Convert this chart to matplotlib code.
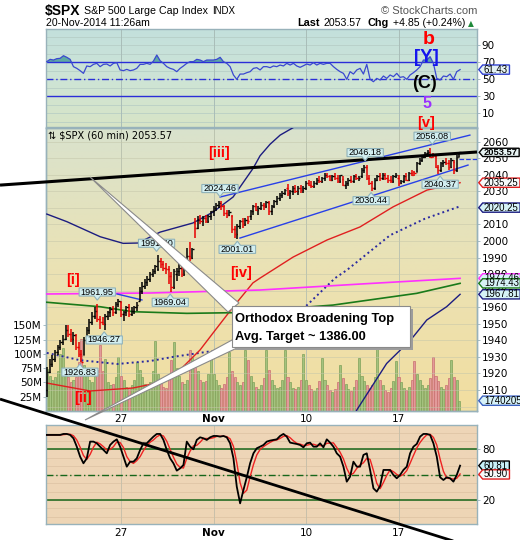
import numpy as np
import matplotlib
matplotlib.use("Agg")
import matplotlib.pyplot as plt
from matplotlib.path import Path
from matplotlib.patches import Polygon, Rectangle
from matplotlib.colors import LinearSegmentedColormap
import matplotlib.transforms as mtrans

# ---------------- data (hourly bars, 21-Oct .. 20-Nov-2014) ----------------
opens = [1910,1921,1926,1929,1933,1936,1939,
         1941,1946,1944,1941,1943,1936,1932,
         1931,1940,1946,1951,1955,1958,1953,
         1951,1950,1955,1957,1959,1957,1962,
         1963,1956,1957,1960,1956,1958,1960,
         1964,1970,1973,1975,1977,1980,1982,
         1983,1988,1986,1984,1983,1979,1972,
         1980,1982,1984,1980,1989,1991,1990,
         2011,2008,2013,2012,2014,2012,2015,
         2018,2020,2022,2023,2021,2017,2016,
         2015,2007,2004,2009,2012,2010,2013,
         2015,2018,2021,2019,2020,2022,2021,
         2023,2018,2021,2024,2026,2028,2029,
         2032,2029,2030,2032,2030,2032,2031,
         2032,2035,2034,2033,2035,2037,2036,
         2038,2040,2039,2037,2039,2038,2036,
         2037.7,2034,2035,2037,2036,2039,2038,
         2039,2043,2045,2038,2035,2032,2037,
         2039.7,2038,2040,2038,2037,2036,2039,
         2038.3,2035,2036,2039,2037,2041,2042,
         2041.5,2047,2049,2051,2053,2054,2052.5,
         2051.2,2045,2043,2047,2048,2047,2045,
         2048,2043,2051]
highs = [1924,1929,1931,1934,1937,1940,1943,
         1949,1949,1947,1945,1944,1939,1934,
         1942,1948,1953,1957,1960,1961.95,1955,
         1954,1956,1958,1960,1961,1963,1965.27,
         1964,1958,1961,1962,1960,1961,1963,
         1972,1975,1977,1979,1981,1983,1985.5,
         1991.4,1990,1988,1987,1985,1981,1983,
         1984,1986,1986,1990,1996,1999.4,1996,
         2014,2015,2016,2015,2016,2016,2018.3,
         2021,2023,2024,2024.46,2022,2019,2019,
         2016,2009,2010,2013,2014,2014,2015,
         2019,2022,2023,2021,2023.8,2023,2024,
         2024,2022,2025,2027,2029,2030,2031.6,
         2034.3,2031,2033,2034,2033,2034,2033,
         2036,2037,2036,2036,2038,2039,2038.7,
         2041,2041.3,2040,2040,2041,2040,2040,
         2039,2036,2038,2039,2040,2040.3,2039,
         2044,2046.18,2046,2040,2036,2038,2040,
         2041,2041.1,2041,2040,2039,2040,2041,
         2040,2037,2040,2041,2042,2043.1,2042.5,
         2048,2050,2052,2054,2055,2056.08,2053,
         2052.1,2046,2048,2049,2050,2049,2050,
         2049,2052,2054]
lows = [1906,1920,1924,1927,1931,1934,1937,
        1940,1942,1939,1937,1934,1930,1926.83,
        1931,1938,1944,1949,1953,1951,1947,
        1949,1946.27,1952,1954,1955,1956,1960,
        1954,1951.4,1955,1954,1955,1956,1958,
        1964,1968,1971,1973,1975,1978,1980,
        1982,1984,1982,1980,1974,1969.04,1971,
        1976,1979,1978,1979,1987,1988,1989,
        2002,2007,2010,2009,2011,2011,2013,
        2015,2018,2020,2019,2015,2013.7,2015,
        2005,2002,2001.01,2007,2008,2009,2010,
        2013,2016,2018,2016,2019,2019,2020,
        2016,2016,2020,2022,2024,2026,2028,
        2027,2025.1,2028,2029,2028,2029,2029,
        2031,2033,2032,2032,2034,2035,2035,
        2036,2038,2036,2036,2037,2035.3,2035,
        2033,2031.3,2033,2035,2035,2037,2036,
        2038,2041,2037,2034,2030.44,2031,2036,
        2036,2037,2037,2035,2035,2035,2038,
        2033,2034.5,2035,2036,2036,2039,2039,
        2041.5,2046,2048,2050,2052,2050,2050,
        2044,2040.37,2042,2045,2046,2043,2044,
        2040.5,2042,2050.5]
closes = [1921,1926,1929,1933,1936,1939,1941,
          1946,1944,1941,1943,1936,1932,1927,
          1940,1946,1951,1955,1958,1953,1951,
          1950,1955,1957,1959,1957,1962,1964,
          1956,1957,1960,1956,1958,1960,1961.6,
          1970,1973,1975,1977,1980,1982,1985,
          1988,1986,1984,1983,1979,1972,1982,
          1982,1984,1980,1989,1991,1990,1995,
          2008,2013,2012,2014,2012,2015,2018,
          2020,2022,2023,2021,2017,2016,2017.8,
          2007,2004,2009,2012,2010,2013,2012,
          2018,2021,2019,2020,2022,2021,2023.6,
          2018,2021,2024,2026,2028,2029,2031,
          2029,2030,2032,2030,2032,2031,2032,
          2035,2034,2033,2035,2037,2036,2038,
          2040,2039,2037,2039,2038,2036,2039.7,
          2034,2035,2037,2036,2039,2038,2038.25,
          2043,2045,2038,2035,2032,2037,2039.3,
          2038,2040,2038,2037,2036,2039,2039.8,
          2035,2036,2039,2037,2041,2040,2041.3,
          2047,2049,2051,2053,2054,2051,2051.8,
          2045,2043,2047,2048,2047,2045,2048.7,
          2043,2051,2053.57]
volumes_m = [74,62,55,60,70,100,110,
             72,60,50,55,60,85,126,
             80,65,55,50,62,72,115,
             70,91,50,45,48,60,95,
             62,55,42,40,45,55,85,
             72,60,48,45,50,70,122,
             65,50,42,40,60,90,120,
             75,62,50,48,55,106,95,
             90,70,55,50,52,65,100,
             65,55,45,40,48,60,103,
             70,60,50,45,50,106,90,
             62,50,42,38,45,58,106,
             71,55,45,40,42,55,107,
             60,50,40,38,42,55,100,
             55,45,38,35,40,52,93,
             55,45,36,33,38,50,81,
             58,48,38,35,42,55,93,
             62,52,45,40,45,60,108,
             55,45,36,34,40,52,87,
             60,50,40,36,42,55,88,
             65,55,45,40,45,58,95,
             62,52,42,38,45,58,89,
             60,55,18]

rsi_vals = [70.8,73.5,72.7,74.3,74.7,77.8,75.9,73.5,64.9,62.9,
            60.2,57.0,65.7,64.9,67.6,68.8,64.9,67.6,68.0,65.7,
            68.8,69.6,61.0,60.2,61.7,60.2,61.0,62.9,67.6,67.6,
            68.8,67.6,71.5,78.6,71.9,68.8,64.9,62.9,61.7,59.0,
            62.9,65.7,68.8,70.8,70.8,73.5,72.7,70.8,72.7,72.7,
            72.7,73.5,75.9,70.8,68.8,64.9,55.1,50.0,56.2,56.2,
            57.8,59.0,62.9,63.7,61.0,64.9,64.9,63.7,65.7,64.9,
            66.8,65.7,68.8,66.8,68.8,65.7,64.1,66.0,68.0,66.8,
            69.6,66.8,68.8,67.6,68.8,68.8,64.9,61.7,59.0,57.0,
            50.0,59.0,56.2,61.0,62.9,56.2,67.6,50.0,47.2,51.1,
            49.2,53.9,51.1,55.1,53.1,57.0,52.3,53.1,50.0,55.1,
            57.8,61.0,64.9,72.7,72.7,76.6,68.8,51.1,49.2,53.9,
            53.1,56.2,50.0,59.0,61.43]
stoch_k = [97.2,97.2,97.2,97.2,97.2,98.4,98.4,97.2,93.2,83.3,
           71.5,63.6,69.5,89.3,89.3,87.3,83.3,79.4,75.4,85.3,
           89.3,92.0,83.3,71.5,59.6,65.5,65.5,69.5,79.4,87.3,
           87.3,91.3,95.2,98.4,98.4,91.3,79.4,69.5,63.6,54.9,
           57.6,61.6,89.3,83.3,80.2,91.3,94.4,93.2,91.3,94.4,
           96.0,96.0,95.2,96.0,94.4,87.3,69.5,35.9,16.1,31.9,
           47.0,63.6,75.4,81.4,83.3,85.3,89.3,90.5,91.3,92.0,
           96.0,98.4,95.2,88.1,87.3,86.5,85.3,82.5,87.3,88.1,
           83.3,83.3,87.3,82.5,92.0,88.1,83.3,75.4,71.5,59.6,
           41.8,47.8,65.5,59.6,59.6,73.5,75.4,55.7,33.9,30.0,
           36.7,55.7,55.7,55.7,49.7,45.8,49.7,55.7,59.6,75.4,
           83.3,86.5,95.2,98.4,98.4,97.2,87.3,71.5,47.0,43.8,
           47.0,45.8,41.8,49.7,60.81]
stoch_d = [97.2,97.2,97.2,97.2,97.2,97.6,98.0,98.0,96.3,91.2,
           82.7,72.8,68.2,74.1,82.7,88.6,86.6,83.3,79.4,80.0,
           83.3,88.9,88.2,82.3,71.5,65.5,63.5,66.8,71.5,78.7,
           84.7,88.6,91.3,95.0,97.3,96.0,89.7,80.1,70.8,62.7,
           58.7,58.0,69.5,78.1,84.3,84.9,88.6,93.0,93.0,93.0,
           93.9,95.5,95.7,95.7,95.2,92.6,83.7,64.2,40.5,28.0,
           31.7,47.5,62.0,73.5,80.0,83.3,86.0,88.4,90.4,91.3,
           93.1,95.5,96.5,93.9,90.2,87.3,86.4,84.8,85.0,86.0,
           86.2,84.9,84.6,84.4,87.3,87.5,87.8,82.3,76.7,68.8,
           57.6,49.7,51.7,57.6,61.6,64.2,69.5,68.2,55.0,39.9,
           33.5,40.8,49.4,55.7,53.7,50.4,48.4,50.4,55.0,63.6,
           72.8,81.7,88.3,93.4,97.3,98.0,94.3,85.3,68.6,54.1,
           45.9,45.5,44.9,45.8,50.90]

# overlays: (bar position, price)
bbu_x = [-0.1, 7.5, 20.1, 28.8, 34.4, 42.8, 55.2, 62.8, 70.4, 78.0, 80.6, 84.4, 88.2, 93.1, 107, 133.6, 156.3]
bbu_y = [2016.3, 2011.7, 2002.6, 1998.6, 1998.8, 2005.4, 2010.9, 2017.5, 2026.6, 2044.0, 2051.5, 2058.5, 2064.0, 2068.5, 2082, 2088, 2085]
bbm_x = [-0.1, 12.5, 26.5, 39, 47.7, 62.8, 73, 84.4, 91.9, 98.4, 109, 113.5, 129.8, 143, 156.3]
bbm_y = [1932.4, 1928, 1925.7, 1927.5, 1930, 1933.6, 1937.8, 1945, 1953.4, 1961.3, 1977.6, 1982.5, 2003.5, 2013.5, 2021.0]
bbl_x = [-0.1, 28.8, 62.8, 80.6, 98.4, 113.5, 117.2, 128.5, 133.6, 138.6, 143.7, 151.2, 156.3]
bbl_y = [1848, 1853, 1850, 1850, 1858, 1885, 1897.9, 1926, 1934, 1942.2, 1952.3, 1960.3, 1967.8]
sma_red_x = [-0.1, 16.3, 32.5, 41.6, 50.3, 57.9, 62.8, 70.4, 77.9, 80.6, 93.1, 105.9, 118.4, 130.9, 143.8, 156.3]
sma_red_y = [1914.2, 1909.4, 1911.2, 1914.2, 1922.1, 1934.2, 1944.4, 1960.1, 1974.7, 1977.6, 1990.3, 2000.6, 2008.5, 2020.6, 2030.8, 2035.25]
sma_mag_x = [-0.1, 39, 80.6, 118.4, 156.3]
sma_mag_y = [1968.0, 1968.6, 1970.4, 1974.0, 1977.46]
sma_grn_x = [-0.1, 20.1, 32.5, 52.9, 70.4, 88.2, 108.2, 139.9, 156.3]
sma_grn_y = [1963.0, 1960.3, 1957.3, 1956.3, 1956.7, 1958.9, 1961.3, 1968.4, 1974.43]
chan_up = ([65.5, 160.0], [2026.6, 2064.0])
chan_lo = ([73.0, 159.3], [2001.8, 2045.9])
chan_small = ([26.5, 35.9], [1968.0, 1964.4])
broad_up = ([-17.8, 162.7], [2033.8, 2053.8])
broad_lo = ([-17.8, 166.0], [1904.5, 1812.6])
ref_line = 2049.6

price_labels = [  # (bar, price, text, side, dx)
    (42, 1991.40, "1991.40", "hi", -1.5), (66, 2024.46, "2024.46", "hi", -1.5),
    (72, 2001.01, "2001.01", "lo", 0), (19, 1961.95, "1961.95", "hi", 0),
    (47, 1969.04, "1969.04", "lo", -1), (22, 1946.27, "1946.27", "lo", -1),
    (13, 1926.83, "1926.83", "lo", -1.5), (120, 2046.18, "2046.18", "hi", 1),
    (123, 2030.44, "2030.44", "lo", -1), (145, 2056.08, "2056.08", "hi", 2),
    (148, 2040.37, "2040.37", "lo", 2)]

date_pos = [28, 63, 98, 133]
date_lbl = ["27", "Nov", "10", "17"]

# ---------------- figure ----------------
W, H = 520, 540
fig = plt.figure(figsize=(W / 100, H / 100), dpi=100)
fig.patch.set_facecolor("white")

def fx(px):
    return px / W

def fy(py):
    return 1 - py / H

L, R = 46, 477
def rect(top, bottom):
    return [L / W, 1 - bottom / H, (R - L) / W, (bottom - top) / H]

ax_rsi = fig.add_axes(rect(29, 127))
ax_vol = fig.add_axes(rect(128, 411), sharex=ax_rsi)
ax_p = fig.add_axes(rect(128, 411), sharex=ax_rsi)
ax_sto = fig.add_axes(rect(425, 524), sharex=ax_rsi)
ax_rsi.set_zorder(1)
ax_sto.set_zorder(1)
ax_vol.set_zorder(2)
ax_p.set_zorder(3)
ax_p.patch.set_visible(False)

def grad(ax, cols):
    cmap = LinearSegmentedColormap.from_list("g", cols)
    ax.imshow(np.linspace(0, 1, 256).reshape(-1, 1), aspect="auto", cmap=cmap,
              extent=[0, 1, 0, 1], transform=ax.transAxes, origin="lower",
              zorder=-10, interpolation="bilinear")

grad(ax_rsi, ["#d8e5c6", "#cde4d6", "#c3e0dc"])
grad(ax_vol, ["#f2dea0", "#ebe2b4", "#d9e2cd"])
grad(ax_sto, ["#eed5b5", "#eed6b8"])

spc = "#98b2ba"
for ax in (ax_rsi, ax_vol, ax_p, ax_sto):
    for s in ax.spines.values():
        s.set_color(spc)
        s.set_linewidth(1.0)
    ax.tick_params(axis="x", which="both", bottom=False, labelbottom=False, top=False)

xmin, xmax = -0.4, 162.7
idx = np.arange(len(closes))
o = np.array(opens); h = np.array(highs); lo = np.array(lows); c = np.array(closes)
up = c >= o
red = "#e60000"
bar_cols = np.where(up, "black", red)

# ---- volume ----
vcols = np.where(up, "#a4c27e", "#e29a9a")
vedge = np.where(up, "#7ea25a", "#c97070")
ax_vol.bar(idx, volumes_m, width=0.78, color=vcols, edgecolor=vedge, linewidth=0.5, zorder=2)
ax_vol.set_ylim(0, 495)
ax_vol.set_yticks([25, 50, 75, 100, 125, 150])
ax_vol.set_yticklabels(["25M", "50M", "75M", "100M", "125M", "150M"])
ax_vol.tick_params(axis="y", labelsize=7.5, length=2, width=0.6, color=spc, pad=1)
for d in date_pos:
    ax_vol.axvline(d, color="#bcc4b0", lw=0.7, zorder=0)

# ---- price ----
ax_p.set_ylim(1897.3, 2068.3)
ax_p.set_yticks(np.arange(1910, 2061, 10))
ax_p.yaxis.tick_right()
ax_p.tick_params(axis="y", labelsize=7.5, length=2, width=0.6, color=spc, pad=1.5)
ax_p.tick_params(axis="y", which="both", left=False, labelleft=False)
for yv in np.arange(1900, 2070, 10):
    ax_p.axhline(yv, color="#c4c6aa", lw=0.6, alpha=0.6, zorder=0)

ax_p.plot(bbu_x, bbu_y, color="#1c1c80", lw=1.0, zorder=3)
ax_p.plot(bbl_x, bbl_y, color="#1c1c80", lw=1.0, zorder=3)
ax_p.plot(bbm_x, bbm_y, color="#2a2aa0", lw=1.4, ls=(0, (1, 1.6)), zorder=3)
ax_p.plot(sma_red_x, sma_red_y, color="#e02020", lw=1.0, zorder=3)
ax_p.plot(sma_mag_x, sma_mag_y, color="#ff30ff", lw=1.2, zorder=3)
ax_p.plot(sma_grn_x, sma_grn_y, color="#1a7a1a", lw=1.2, zorder=3)
for cx_, cy_ in (chan_up, chan_lo, chan_small):
    ax_p.plot(cx_, cy_, color="#2840e8", lw=1.0, zorder=3)
ax_p.hlines(ref_line, idx[-1], xmax, colors="#2840e8", linestyles="--", lw=0.9, zorder=3)

ax_p.vlines(idx, lo, h, colors=bar_cols, lw=1.1, zorder=5)
ax_p.hlines(o, idx - 0.5, idx, colors=bar_cols, lw=1.0, zorder=5)
ax_p.hlines(c, idx, idx + 0.5, colors=bar_cols, lw=1.0, zorder=5)

ax_p.plot(broad_up[0], broad_up[1], color="black", lw=2.2, zorder=8, clip_on=False,
          solid_capstyle="butt")
ax_p.plot(broad_lo[0], broad_lo[1], color="black", lw=2.0, zorder=8, clip_on=False,
          solid_capstyle="butt")

# price label callouts
def callout(side):
    def f(x0, y0, width, height, mutation_size):
        p = 0.18 * mutation_size
        x0 -= p
        w = width + 2 * p
        y0 += 0.05 * mutation_size
        hh = height - 0.1 * mutation_size
        cx = x0 + w / 2
        t = 0.45 * mutation_size
        hw = 0.35 * mutation_size
        if side == "hi":
            verts = [(x0, y0), (cx - hw, y0), (cx, y0 - t), (cx + hw, y0), (x0 + w, y0),
                     (x0 + w, y0 + hh), (x0, y0 + hh), (x0, y0)]
        else:
            verts = [(x0, y0), (x0 + w, y0), (x0 + w, y0 + hh), (cx + hw, y0 + hh),
                     (cx, y0 + hh + t), (cx - hw, y0 + hh), (x0, y0 + hh), (x0, y0)]
        return Path(verts, closed=True)
    return f

for b, pv, txt, side, dx in price_labels:
    dy = 12 if side == "hi" else -10
    ax_p.annotate(txt, xy=(b, pv), xytext=(dx, dy), textcoords="offset pixels",
                  ha="center", va="center", fontsize=6.6, family="Liberation Sans",
                  bbox=dict(boxstyle=callout(side), fc="#d2eef0", ec="#8fb2ba", lw=0.8),
                  zorder=12, annotation_clip=False)

# ---- RSI ----
rsi = np.array(rsi_vals)
rsi_x = np.linspace(-0.1, 156.3, len(rsi))
ax_rsi.set_ylim(-6.1, 109.2)
for yv in range(0, 101, 10):
    ax_rsi.axhline(yv, color="#b4cbc4", lw=0.5, zorder=0)
for d in date_pos:
    ax_rsi.axvline(d, color="#a9bdb8", lw=0.7, zorder=0)
ax_rsi.fill_between(rsi_x, rsi, 70, where=rsi >= 70, interpolate=True, color="#5ea9a3",
                    lw=0, zorder=1)
ax_rsi.axhline(70, color="#2a2ed8", lw=1.0, zorder=2)
ax_rsi.axhline(30, color="#2a2ed8", lw=1.0, zorder=2)
ax_rsi.axhline(50, color="#2a2ed8", lw=1.0, ls=(0, (5, 2, 1, 2)), zorder=2)
ax_rsi.plot(rsi_x, rsi, color="#3a48d0", lw=0.9, zorder=3)
ax_rsi.yaxis.tick_right()
ax_rsi.set_yticks([10, 30, 50, 70, 90])
ax_rsi.tick_params(axis="y", labelsize=7.5, length=2, width=0.6, color=spc, pad=1.5)

# ---- stochastic ----
sk = np.array(stoch_k)
sd = np.array(stoch_d)
st_x = np.linspace(-0.1, 156.3, len(sk))
ax_sto.set_ylim(-8.4, 109.0)
for yv in range(0, 101, 10):
    ax_sto.axhline(yv, color="#dcc2a2", lw=0.5, zorder=0)
for d in date_pos:
    ax_sto.axvline(d, color="#c8c0aa", lw=0.7, zorder=0)
ax_sto.axhline(80, color="#17661a", lw=1.1, zorder=2)
ax_sto.axhline(20, color="#17661a", lw=1.1, zorder=2)
ax_sto.axhline(50, color="#17661a", lw=1.0, ls=(0, (5, 2, 1, 2)), zorder=2)
ax_sto.plot(st_x, sd, color="#ee2222", lw=1.0, zorder=3)
ax_sto.plot(st_x, sk, color="black", lw=1.3, zorder=4)
ax_sto.yaxis.tick_right()
ax_sto.set_yticks([20, 50, 80])
ax_sto.tick_params(axis="y", labelsize=7.5, length=2, width=0.6, color=spc, pad=1.5)

for ax in (ax_rsi, ax_vol, ax_p, ax_sto):
    ax.set_xlim(xmin, xmax)

# date labels
tr_d = mtrans.blended_transform_factory(ax_vol.transData, fig.transFigure)
for ypx in (418.5, 532.5):
    for d, t in zip(date_pos, date_lbl):
        fig.text(d, fy(ypx), t, transform=tr_d, ha="center", va="center", fontsize=7.5,
                 fontweight="bold" if t == "Nov" else "normal", zorder=20)

# ---- value tags on the right ----
def tag_style(x0, y0, width, height, mutation_size):
    p = 0.14 * mutation_size
    x0 -= p
    w = width + 2 * p
    y0 += 0.04 * mutation_size
    hh = height - 0.08 * mutation_size
    a = 0.42 * hh
    verts = [(x0 - a, y0 + hh / 2), (x0, y0), (x0 + w, y0), (x0 + w, y0 + hh),
             (x0, y0 + hh), (x0 - a, y0 + hh / 2)]
    return Path(verts, closed=True)

def tag(ax, yv, txt, ec, fc="#d6f2f6", bold=False, size=6.9):
    tr = mtrans.blended_transform_factory(fig.transFigure, ax.transData)
    fig.text(fx(484), yv, txt, transform=tr, ha="left", va="center", fontsize=size,
             family="Liberation Sans", fontweight="bold" if bold else "normal",
             bbox=dict(boxstyle=tag_style, fc=fc, ec=ec, lw=1.0), zorder=25)

tag(ax_rsi, rsi_vals[-1], "61.43", "#3040d0", "#e4f2f4")
tag(ax_p, closes[-1], "2053.57", "black", "#e8f4f4", bold=True, size=6.7)
tag(ax_p, sma_red_y[-1], "2035.25", "#e02020", "#f6fafa")
tag(ax_p, bbm_y[-1] - 0.8, "2020.25", "#1c1c80")
tag(ax_p, sma_mag_y[-1], "1977.46", "#ff30ff")
tag(ax_p, sma_grn_y[-1], "1974.43", "#1a7a1a")
tag(ax_p, bbl_y[-1], "1967.81", "#1c1c80")
tag(ax_vol, volumes_m[-1], "1740205", "#3a60c0", "#d6f2f8")
tag(ax_sto, stoch_k[-1], "60.81", "black", "#c8f0f8")
tag(ax_sto, stoch_d[-1] - 0.5, "50.90", "#e02020", "#f6fafa")

# ---- header ----
fig.text(fx(45), fy(10.5), "$SPX", fontsize=10, fontweight="bold",
         family="Liberation Sans", va="center", ha="left")
fig.text(fx(84), fy(10.5), "S&P 500 Large Cap Index", fontsize=7.7,
         family="Liberation Sans", va="center", ha="left")
fig.text(fx(212), fy(11), "INDX", fontsize=7.0, family="Liberation Sans", va="center", ha="left")
fig.text(fx(477), fy(10.5), "\u00a9 StockCharts.com", fontsize=8, color="#555555",
         family="Liberation Sans", va="center", ha="right")
fig.text(fx(46), fy(23.5), "20-Nov-2014 11:26am", fontsize=7.6,
         family="Liberation Sans", va="center", ha="left")
fig.text(fx(297), fy(23.5), "Last", fontsize=7.8, fontweight="bold",
         family="Liberation Sans", va="center", ha="left")
fig.text(fx(323), fy(23.5), "2053.57", fontsize=7.6, family="Liberation Sans",
         va="center", ha="left")
fig.text(fx(368), fy(23.5), "Chg", fontsize=7.8, fontweight="bold",
         family="Liberation Sans", va="center", ha="left")
fig.text(fx(393), fy(23.5), "+4.85 (+0.24%)", fontsize=7.6, family="Liberation Sans",
         va="center", ha="left")
fig.text(fx(468), fy(24), "\u25b2", fontsize=5.5, color="#1f8a3a", va="center", ha="left")

fig.text(fx(48), fy(135.5), "\u21c5 $SPX (60 min) 2053.57", fontsize=7, va="center",
         ha="left", zorder=20)

# ---- wave labels ----
def wave(px, py, t, col, size):
    fig.text(fx(px), fy(py), t, color=col, fontsize=size, fontweight="bold",
             family="Liberation Sans", ha="center", va="center", zorder=22)

wave(429, 40, "b", "#ff0000", 14)
wave(426, 58, "[Y]", "#1515ee", 13.5)
wave(424.5, 84, "(C)", "black", 13)
wave(427, 103, "5", "#9b30ff", 11.5)
wave(426, 123.5, "[v]", "#ff0000", 10.5)
wave(219, 153, "[iii]", "#ff0000", 10.5)
wave(73, 280, "[i]", "#ff0000", 10.5)
wave(83, 398, "[ii]", "#ff0000", 10.5)
wave(241, 273, "[iv]", "#ff0000", 10.5)

# ---- callout: Orthodox Broadening Top ----
def P(pts):
    return [(fx(a), fy(b)) for a, b in pts]

for pts in ([(90, 177), (228, 312), (239, 303)], [(85, 420), (232, 340), (237, 348)]):
    fig.add_artist(Polygon(P(pts), closed=True, transform=fig.transFigure, fc="white",
                           ec="#8a8a8a", lw=0.8, zorder=30))
bx0, by0, bx1, by1 = 232, 306, 410, 347
fig.add_artist(Rectangle((fx(bx0 + 3), fy(by1 + 3)), (bx1 - bx0) / W, (by1 - by0) / H,
                         transform=fig.transFigure, fc="#9c9c9c", ec="none", zorder=31))
fig.add_artist(Rectangle((fx(bx0), fy(by1)), (bx1 - bx0) / W, (by1 - by0) / H,
                         transform=fig.transFigure, fc="white", ec="#8a8a8a", lw=0.8, zorder=32))
fig.text(fx(235), fy(319), "Orthodox Broadening Top", fontsize=9.3, fontweight="bold",
         family="Liberation Sans", ha="left", va="center", zorder=33)
fig.text(fx(235), fy(337), "Avg. Target ~ 1386.00", fontsize=9.3, fontweight="bold",
         family="Liberation Sans", ha="left", va="center", zorder=33)

fig.savefig("out.png", dpi=100)
